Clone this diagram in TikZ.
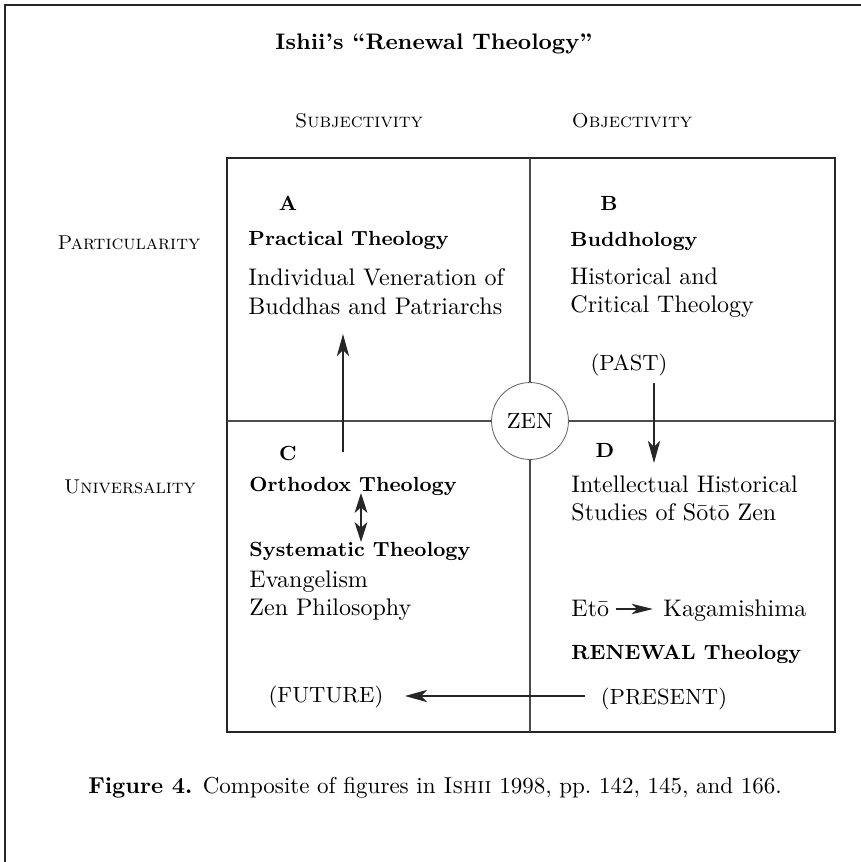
\documentclass[tikz,border=0pt]{standalone}
\usetikzlibrary{arrows.meta}
\tikzset{
  frameline/.style={line width=0.6pt, draw=black!85},
  boxline/.style={line width=0.6pt, draw=black!85},
  midline/.style={line width=0.55pt, draw=black!70},
  txt/.style={inner sep=0pt, anchor=base west, font=\fontsize{10.08}{12}\selectfont},
  btxt/.style={inner sep=0pt, anchor=base west, font=\fontsize{8.61}{10}\selectfont\bfseries},
  lett/.style={inner sep=0pt, anchor=base, font=\fontsize{8.61}{10}\selectfont\bfseries},
  sclabel/.style={inner sep=0pt, anchor=base, font=\fontsize{8.4}{10}\selectfont\scshape},
  paren/.style={inner sep=0pt, anchor=base, font=\fontsize{9.24}{11}\selectfont},
  zen/.style={circle, draw=black!60, line width=0.35pt, minimum size=32.3pt, inner sep=0pt, font=\fontsize{9.24}{11}\selectfont},
  arr/.style={line width=0.5pt, draw=black!85, -{Stealth[length=9.4pt, width=5.2pt, inset=2.6pt]}},
  dblarr/.style={line width=0.5pt, draw=black!85, {Stealth[length=8.4pt, width=5.4pt, inset=2.4pt]}-{Stealth[length=8.4pt, width=5.4pt, inset=2.4pt]}},
  smallarr/.style={line width=0.5pt, draw=black!85, -{Stealth[length=9pt, width=4.4pt, inset=2.4pt]}}
}
\begin{document}
\begin{tikzpicture}[x=0.42pt, y=-0.42pt]
\useasboundingbox (0,0) rectangle (861,862);
% page frame (top and left)
\draw[frameline] (5,862) -- (5,5) -- (861,5);
% title
\node[inner sep=0pt, anchor=base, font=\fontsize{9.45}{11}\selectfont\bfseries] (title) at (434,49) {Ishii’s “Renewal Theology”};
% axis labels
\node[sclabel] (subj) at (359,127) {Subjectivity};
\node[sclabel] (obj) at (632,127) {Objectivity};
\node[sclabel] (part) at (129,249) {Particularity};
\node[sclabel] (univ) at (130,493) {Universality};
% quadrant box
\draw[boxline] (227,158) rectangle (835,732);
\node[zen] (zen) at (530,421) {ZEN};
\draw[midline] (530,158) -- (zen.north);
\draw[midline] (zen.south) -- (530,732);
\draw[midline] (227,421) -- (zen.west);
\draw[midline] (zen.east) -- (835,421);
% quadrant A
\node[lett] (A) at (288,210) {A};
\node[btxt] (practical) at (248,245) {Practical Theology};
\node[txt] (indiv) at (248,285) {Individual Veneration of};
\node[txt] (buddhas) at (248,314) {Buddhas and Patriarchs};
% quadrant B
\node[lett] (B) at (609,210) {B};
\node[btxt] (buddhology) at (570,246) {Buddhology};
\node[txt] (hist) at (570,284) {Historical and};
\node[txt] (crit) at (570,312) {Critical Theology};
\node[paren] (past) at (629,370) {(PAST)};
% quadrant C
\node[lett] (C) at (288,460) {C};
\node[btxt] (orthodox) at (249,491) {Orthodox Theology};
\node[btxt] (system) at (249,556) {Systematic Theology};
\node[txt] (evang) at (249,587) {Evangelism};
\node[txt] (zenphil) at (249,615) {Zen Philosophy};
\node[paren] (future) at (326,702) {(FUTURE)};
% quadrant D
\node[lett] (D) at (605,457) {D};
\node[txt] (intel) at (571,492) {Intellectual Historical};
\node[txt] (studies) at (571,520) {Studies of Sōtō Zen};
\node[txt] (eto) at (571,616) {Etō};
\node[txt] (kag) at (663,616) {Kagamishima};
\node[btxt] (renewal) at (571,659) {RENEWAL Theology};
\node[paren] (present) at (664,704) {(PRESENT)};
% arrows
\coordinate (upS) at (343,452);
\coordinate (upE) at (343,334);
\draw[arr] (upS) -- (upE);
\coordinate (dnS) at (654,383);
\coordinate (dnE) at (654,463);
\draw[arr] (dnS) -- (dnE);
\coordinate (ltS) at (585,696);
\coordinate (ltE) at (405,696);
\draw[arr] (ltS) -- (ltE);
\coordinate (dblT) at (361,493);
\coordinate (dblB) at (361,542);
\draw[dblarr] (dblT) -- (dblB);
\draw[smallarr] ([shift={(6,-7)}]eto.base east) -- ([shift={(-10,-7)}]kag.base west);
% caption
\node[inner sep=0pt, anchor=base, font=\fontsize{9.66}{12}\selectfont] (caption) at (435,793) {\textbf{Figure 4.} Composite of figures in \textsc{Ishii} 1998, pp.~142, 145, and 166.};
\end{tikzpicture}
\end{document}
